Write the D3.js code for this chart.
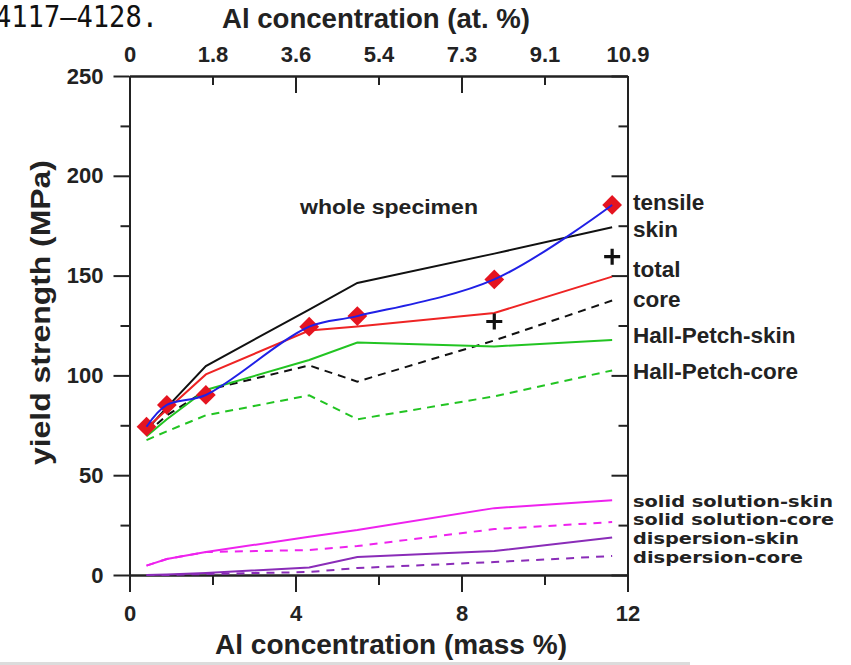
<!DOCTYPE html>
<html>
<head>
<meta charset="utf-8">
<script src="https://cdn.jsdelivr.net/npm/d3@7/dist/d3.min.js"></script>
<style>
  html, body { margin: 0; padding: 0; background: #fff; }
  svg { display: block; }
  .ax path, .ax line { stroke: #222; stroke-width: 2; }
  .ax text { font-family: "Liberation Sans", Arial, sans-serif; font-weight: bold; font-size: 22px; fill: #222; }
</style>
</head>
<body>
<svg id="chart" width="851" height="665"></svg>
<script>
// Al content of the alloys (mass %)
const massPct = [0.41, 0.90, 1.84, 4.33, 5.49, 8.79, 11.63];

// yield strength contributions (MPa)
const tensile  = [74.3, 85.2, 90.2, 124.4, 129.7, 148.1, 185.4];
const skin     = [72.6, 84.0, 104.7, 133.0, 146.3, 161.0, 174.2];
const total    = [73.6, 82.8, 100.5, 122.5, 124.5, 131.3, 149.5];
const core     = [71.0, 80.0, 92.5, 105.0, 96.9, 117.5, 137.5];
const hpSkin   = [69.5, 78.0, 92.7, 107.7, 116.5, 114.5, 117.7];
const hpCore   = [67.6, 72.0, 80.0, 90.0, 78.0, 89.5, 102.5];
const ssSkin   = [4.7, 8.0, 11.5, 19.2, 22.5, 33.5, 37.5];
const ssCore   = [4.7, 8.0, 11.5, 12.5, 14.5, 23.0, 26.5];
const dispSkin = [0.0, 0.2, 1.0, 3.8, 9.0, 12.0, 18.8];
const dispCore = [0.0, 0.0, 0.5, 1.5, 3.5, 6.5, 9.5];

// whole-specimen estimates marked with "+"
const plusX = [8.79, 11.63];
const plusY = [127.0, 159.5];

// axis ticks
const yMajor = [0, 50, 100, 150, 200, 250];
const yMinor = [25, 75, 125, 175, 225];
const xMajor = [0, 4, 8, 12];
const xMinor = [2, 6, 10];
const atMax = 10.9;
const atLabels = ["0", "1.8", "3.6", "5.4", "7.3", "9.1", "10.9"];

// series labels along the right edge
const upperLabels = ["tensile", "skin", "total", "core", "Hall-Petch-skin", "Hall-Petch-core"];
const lowerLabels = ["solid solution-skin", "solid solution-core", "dispersion-skin", "dispersion-core"];

const svg = d3.select("#chart");
const L = 129.5, R = 627.5, T = 76, B = 575;

const x = d3.scaleLinear().domain([0, 12]).range([L, R]);
const xAt = d3.scaleLinear().domain([0, atMax]).range([L, R]);
const y = d3.scaleLinear().domain([0, 250]).range([B, T]);

// citation fragment at the top-left corner
svg.append("text")
  .attr("x", -5).attr("y", 27)
  .style("font-family", "'DejaVu Sans Mono', monospace")
  .style("font-size", "30px")
  .style("fill", "#111")
  .attr("textLength", 163).attr("lengthAdjust", "spacingAndGlyphs")
  .text("4117\u20134128.");

// axes
svg.append("g").attr("class", "ax").attr("transform", `translate(${L},0)`)
  .call(d3.axisLeft(y).tickValues(yMajor).tickSize(16).tickSizeOuter(0).tickPadding(10));
svg.append("g").attr("class", "ax").attr("transform", `translate(${L},0)`)
  .call(d3.axisLeft(y).tickValues(yMinor).tickSize(9).tickSizeOuter(0).tickFormat(""));
svg.append("g").attr("class", "ax").attr("transform", `translate(${R},0)`)
  .call(d3.axisRight(y).tickValues(yMajor).tickSize(-16).tickSizeOuter(0).tickFormat(""));
svg.append("g").attr("class", "ax").attr("transform", `translate(${R},0)`)
  .call(d3.axisRight(y).tickValues(yMinor).tickSize(-9).tickSizeOuter(0).tickFormat(""));

svg.append("g").attr("class", "ax").attr("transform", `translate(0,${B})`)
  .call(d3.axisBottom(x).tickValues(xMajor).tickSize(17).tickSizeOuter(0).tickPadding(13));
svg.append("g").attr("class", "ax").attr("transform", `translate(0,${B})`)
  .call(d3.axisBottom(x).tickValues(xMinor).tickSize(10).tickSizeOuter(0).tickFormat(""));

const atTicks = atLabels.map((d, i) => i * atMax / (atLabels.length - 1));
const atFmt = v => atLabels[Math.round(v / atMax * (atLabels.length - 1))];
svg.append("g").attr("class", "ax").attr("transform", `translate(0,${T})`)
  .call(d3.axisTop(xAt).tickValues(atTicks.filter((d, i) => i % 2 === 0))
    .tickSize(-17).tickSizeOuter(0).tickPadding(14).tickFormat(atFmt));
svg.append("g").attr("class", "ax").attr("transform", `translate(0,${T})`)
  .call(d3.axisTop(xAt).tickValues(atTicks.filter((d, i) => i % 2 === 1))
    .tickSize(-9).tickSizeOuter(0).tickPadding(14).tickFormat(atFmt));

// axis titles
const bold = sel => sel.style("font-family", "'Liberation Sans', Arial, sans-serif")
  .style("font-weight", "bold").style("fill", "#222");

svg.append("text").call(bold)
  .attr("x", 222).attr("y", 28).style("font-size", "27px")
  .attr("textLength", 308).attr("lengthAdjust", "spacingAndGlyphs")
  .text("Al concentration (at. %)");

svg.append("text").call(bold)
  .attr("x", 215).attr("y", 654).style("font-size", "27px")
  .attr("textLength", 352).attr("lengthAdjust", "spacingAndGlyphs")
  .text("Al concentration (mass %)");

svg.append("text").call(bold)
  .attr("transform", "translate(50,465) rotate(-90)")
  .style("font-size", "28px")
  .attr("textLength", 305).attr("lengthAdjust", "spacingAndGlyphs")
  .text("yield strength (MPa)");

svg.append("text").call(bold)
  .attr("x", 300).attr("y", 214).style("font-size", "20px")
  .attr("textLength", 178).attr("lengthAdjust", "spacingAndGlyphs")
  .text("whole specimen");

// data lines
const series = [
  { v: skin,     color: "#111111", dash: null },
  { v: core,     color: "#111111", dash: "8,6" },
  { v: total,    color: "#ee2424", dash: null },
  { v: hpSkin,   color: "#22c422", dash: null },
  { v: hpCore,   color: "#22c422", dash: "8,6" },
  { v: ssSkin,   color: "#ee22ee", dash: null },
  { v: ssCore,   color: "#ee22ee", dash: "8,7" },
  { v: dispSkin, color: "#8a2cb8", dash: null },
  { v: dispCore, color: "#8a2cb8", dash: "8,7" }
];

const line = d3.line().x(d => x(d[0])).y(d => y(d[1]));

svg.append("g").selectAll("path").data(series).join("path")
  .attr("d", s => line(massPct.map((m, i) => [m, s.v[i]])))
  .attr("fill", "none")
  .attr("stroke", s => s.color)
  .attr("stroke-width", 2)
  .attr("stroke-dasharray", s => s.dash);

// tensile test points and their connecting curve
const diamond = d3.symbol().type(d3.symbolSquare).size(195);
svg.append("g").selectAll("path").data(massPct).join("path")
  .attr("d", diamond)
  .attr("transform", (m, i) => `translate(${x(m)},${y(tensile[i])}) rotate(45)`)
  .attr("fill", "#e51420");

svg.append("path")
  .attr("d", d3.line().curve(d3.curveCatmullRom.alpha(0.5)).x(d => x(d[0])).y(d => y(d[1]))(massPct.map((m, i) => [m, tensile[i]])))
  .attr("fill", "none").attr("stroke", "#2020e6").attr("stroke-width", 2);

// plus markers
const gp = svg.append("g");
plusX.forEach((m, i) => {
  const cx = x(m), cy = y(plusY[i]);
  gp.append("path")
    .attr("d", `M${cx - 8},${cy}H${cx + 8}M${cx},${cy - 8}V${cy + 8}`)
    .attr("stroke", "#111").attr("stroke-width", 3.2).attr("fill", "none");
});

// series labels
const upperBase = [210, 237, 277, 307, 343, 379];
svg.append("g").selectAll("text").data(upperLabels).join("text").call(bold)
  .attr("x", 633).attr("y", (d, i) => upperBase[i])
  .style("font-size", "22.5px")
  .text(d => d);

const lowerBase = [507, 525, 544, 563];
const lowerLen = [200, 201, 166, 170];
svg.append("g").selectAll("text").data(lowerLabels).join("text")
  .style("font-family", "'DejaVu Sans', sans-serif").style("font-weight", "bold")
  .style("fill", "#222").style("font-size", "16.5px")
  .attr("x", 633).attr("y", (d, i) => lowerBase[i])
  .attr("textLength", (d, i) => lowerLen[i]).attr("lengthAdjust", "spacingAndGlyphs")
  .text(d => d);

// page edge strip along the bottom
svg.append("rect").attr("x", 0).attr("y", 662).attr("width", 690).attr("height", 3).attr("fill", "#dcdcdc");
</script>
</body>
</html>
